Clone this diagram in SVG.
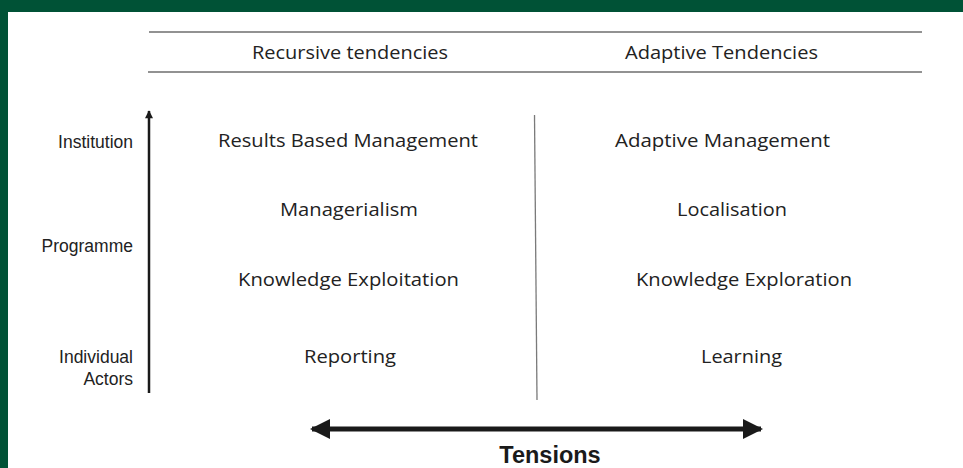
<svg xmlns="http://www.w3.org/2000/svg" width="963" height="468" viewBox="0 0 963 468">
  <style>
    .cal { font-family: "Open Sans", "Liberation Sans", sans-serif; font-size: 19px; fill: #222222; text-anchor: middle; }
    .lab { font-family: "Liberation Sans", Arial, sans-serif; font-size: 17.5px; fill: #222222; text-anchor: end; }
    .ten { font-family: "Liberation Sans", Arial, sans-serif; font-size: 23.5px; font-weight: bold; fill: #1a1a1a; text-anchor: middle; }
    .rule { stroke: #6e6e6e; stroke-width: 1.5; fill: none; }
  </style>
  <defs>
    <marker id="upHead" viewBox="0 0 10 10" refX="9" refY="5" markerWidth="10" markerHeight="8" markerUnits="userSpaceOnUse" orient="auto">
      <path d="M0,0 L10,5 L0,10 Z" fill="#1a1a1a"/>
    </marker>
    <marker id="bigHead" viewBox="0 0 10 10" refX="9" refY="5" markerWidth="20" markerHeight="20" markerUnits="userSpaceOnUse" orient="auto-start-reverse">
      <path d="M0,0 L10,5 L0,10 Z" fill="#1a1a1a"/>
    </marker>
  </defs>

  <rect x="0" y="0" width="963" height="468" fill="#ffffff"/>
  <rect x="0" y="0" width="963" height="12" fill="#005236"/>
  <rect x="0" y="0" width="8" height="468" fill="#005236"/>

  <g id="header">
    <line class="rule" x1="149" y1="32" x2="922" y2="32"/>
    <line class="rule" x1="148" y1="72" x2="922" y2="72"/>
    <text class="cal" x="350" y="59" textLength="196" lengthAdjust="spacingAndGlyphs">Recursive tendencies</text>
    <text class="cal" x="721.5" y="59" textLength="193" lengthAdjust="spacingAndGlyphs">Adaptive Tendencies</text>
  </g>

  <g id="divider">
    <line x1="534.5" y1="115" x2="537" y2="400" stroke="#7a7a7a" stroke-width="1.3"/>
  </g>

  <g id="levels">
    <text class="lab" x="133" y="148">Institution</text>
    <text class="lab" x="133" y="252">Programme</text>
    <text class="lab" x="133" y="363">Individual</text>
    <text class="lab" x="133" y="385">Actors</text>
  </g>

  <g id="recursive">
    <text class="cal" x="348" y="147" textLength="260" lengthAdjust="spacingAndGlyphs">Results Based Management</text>
    <text class="cal" x="349" y="216" textLength="138" lengthAdjust="spacingAndGlyphs">Managerialism</text>
    <text class="cal" x="348.5" y="286" textLength="221" lengthAdjust="spacingAndGlyphs">Knowledge Exploitation</text>
    <text class="cal" x="350" y="363" textLength="92" lengthAdjust="spacingAndGlyphs">Reporting</text>
  </g>

  <g id="adaptive">
    <text class="cal" x="722.5" y="147" textLength="215" lengthAdjust="spacingAndGlyphs">Adaptive Management</text>
    <text class="cal" x="732" y="216" textLength="110" lengthAdjust="spacingAndGlyphs">Localisation</text>
    <text class="cal" x="744" y="286" textLength="216" lengthAdjust="spacingAndGlyphs">Knowledge Exploration</text>
    <text class="cal" x="741.5" y="363" textLength="81" lengthAdjust="spacingAndGlyphs">Learning</text>
  </g>

  <g id="connectors">
    <line x1="149" y1="393" x2="149" y2="111" stroke="#1a1a1a" stroke-width="2.5" marker-end="url(#upHead)"/>
    <line x1="312" y1="429" x2="761" y2="429" stroke="#1a1a1a" stroke-width="5" marker-start="url(#bigHead)" marker-end="url(#bigHead)"/>
  </g>

  <g id="tensions">
    <text class="ten" x="550" y="463">Tensions</text>
  </g>
</svg>
